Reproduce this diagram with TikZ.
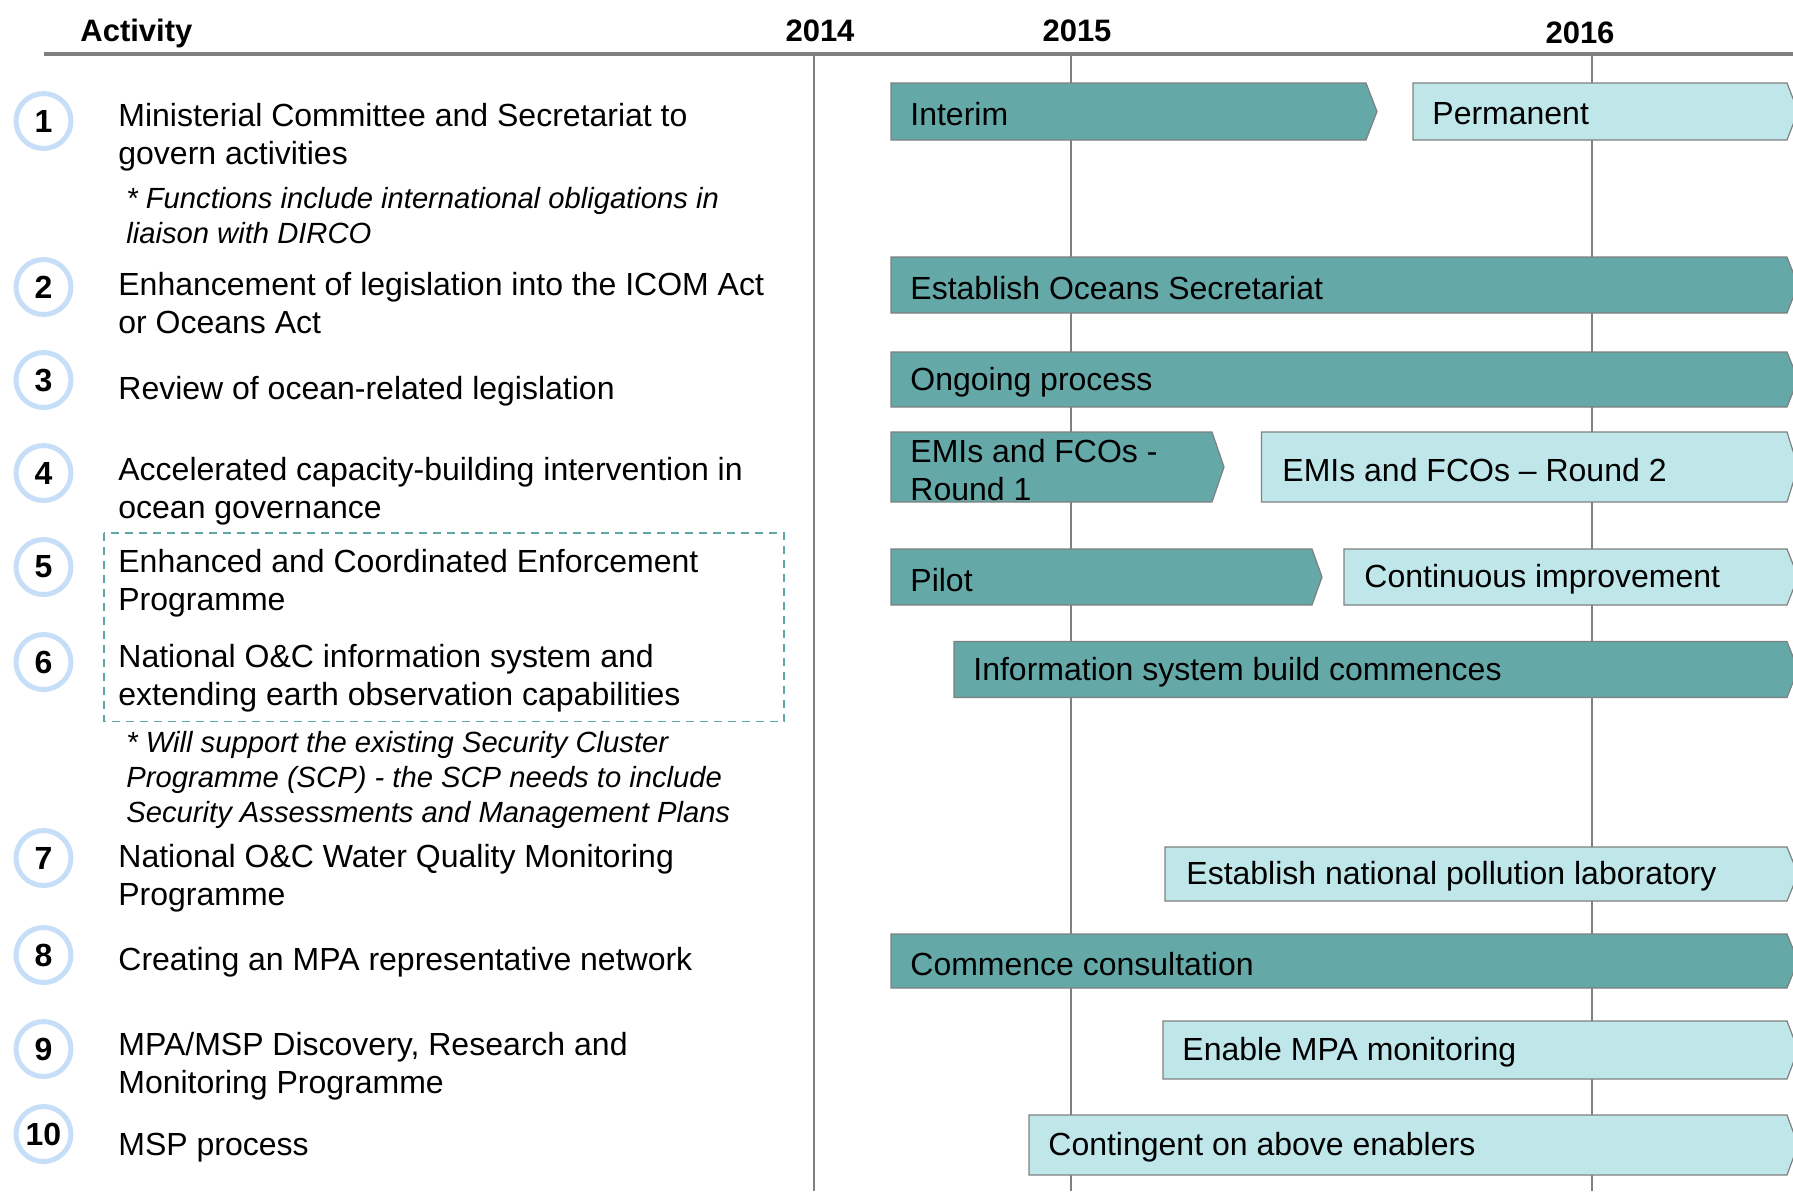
\documentclass[tikz,border=0pt]{standalone}
\usepackage{fontspec}
\setmainfont{Liberation Sans}
\usetikzlibrary{positioning}

\definecolor{darkteal}{RGB}{100,168,168}
\definecolor{lightteal}{RGB}{191,231,234}
\definecolor{bargray}{RGB}{128,128,128}
\definecolor{gridgray}{RGB}{128,128,128}
\definecolor{ringblue}{RGB}{198,222,247}
\definecolor{boxteal}{RGB}{95,167,167}

\begin{document}
\begin{tikzpicture}[
  x=0.5pt, y=-0.5pt,
  acttext/.style={anchor=west, inner sep=0pt, align=left, yshift=-1.5pt, font=\fontsize{16}{19}\selectfont},
  notetext/.style={anchor=west, inner sep=0pt, align=left, font=\fontsize{14.6}{17.6}\selectfont\itshape},
  numcirc/.style={circle, draw=ringblue, line width=2.5pt, fill=white, minimum size=27.5pt, inner sep=0pt, font=\fontsize{16}{19}\selectfont\bfseries},
  headlbl/.style={inner sep=0pt, font=\fontsize{15.5}{18}\selectfont\bfseries},
  darkbar/.style={draw=bargray, fill=darkteal, line width=0.6pt},
  lightbar/.style={draw=bargray, fill=lightteal, line width=0.6pt},
  bartext/.style={anchor=west, inner sep=0pt, align=left, yshift=-1.3pt, font=\fontsize{16}{19}\selectfont},
  gridline/.style={draw=gridgray, line width=0.75pt}
]
\clip (0,0) rectangle (1793,1191);
\useasboundingbox (0,0) rectangle (1793,1191);

% header
\node[headlbl, anchor=west] (acthead) at (80,33) {Activity};
\node[headlbl] (y2014) at (820,31) {2014};
\node[headlbl] (y2015) at (1077,31) {2015};
\node[headlbl] (y2016) at (1580,33) {2016};
\draw[draw=gridgray, line width=2pt] (43.5,53.7) -- (1793,53.7);

% divider and year lines
\draw[gridline] (814,53.7) -- (814,1191);
\draw[gridline] (1071,53.7) -- (1071,1191);
\draw[gridline] (1592,53.7) -- (1592,1191);

% activity numbers
\foreach \n/\yy in {1/121, 2/287, 3/380, 4/473, 5/567, 6/662, 7/858, 8/955, 9/1049, 10/1134}
  \node[numcirc] (num\n) at (43.5,\yy) {\n};

% activities
\node[acttext] (act1) at (118,134) {Ministerial Committee and Secretariat to\\govern activities};
\node[notetext] (note1) at (126,215.5) {* Functions include international obligations in\\liaison with DIRCO};
\node[acttext] (act2) at (118,300) {Enhancement of legislation into the ICOM Act\\or Oceans Act};
\node[acttext] (act3) at (118,388) {Review of ocean-related legislation};
\node[acttext] (act4) at (118,488) {Accelerated capacity-building intervention in\\ocean governance};
\node[acttext] (act5) at (118,580) {Enhanced and Coordinated Enforcement\\Programme};
\node[acttext] (act6) at (118,675) {National O\&C information system and\\extending earth observation capabilities};
\node[notetext] (note2) at (126,780) {* Will support the existing Security Cluster\\Programme (SCP) - the SCP needs to include\\Security Assessments and Management Plans};
\node[acttext] (act7) at (118,875.5) {National O\&C Water Quality Monitoring\\Programme};
\node[acttext] (act8) at (118,959) {Creating an MPA representative network};
\node[acttext] (act9) at (118,1063) {MPA/MSP Discovery, Research and\\Monitoring Programme};
\node[acttext] (act10) at (118,1145) {MSP process};
\draw[draw=boxteal, line width=0.8pt, dash pattern=on 4pt off 3pt] (104,533) rectangle (784,721.5);

% timeline bars
\path[darkbar] (891,83) -- (1366,83) -- (1377,111.5) -- (1366,140) -- (891,140) -- cycle;
\node[bartext] (interim) at (910,111.5) {Interim};
\path[lightbar] (1413,83) -- (1787,83) -- (1798,111.5) -- (1787,140) -- (1413,140) -- cycle;
\node[bartext] (permanent) at (1432,111.5) {Permanent};

\path[darkbar] (891,257) -- (1787,257) -- (1798,285) -- (1787,313) -- (891,313) -- cycle;
\node[bartext] (secretariat) at (910,285) {Establish Oceans Secretariat};

\path[darkbar] (891,352) -- (1787,352) -- (1798,379.5) -- (1787,407) -- (891,407) -- cycle;
\node[bartext] (ongoing) at (910,379.5) {Ongoing process};

\path[darkbar] (891,432) -- (1212,432) -- (1224,467) -- (1212,502) -- (891,502) -- cycle;
\node[bartext] (round1) at (910,467) {EMIs and FCOs -\\Round 1};
\path[lightbar] (1261.5,432) -- (1787,432) -- (1798,467) -- (1787,502) -- (1261.5,502) -- cycle;
\node[bartext] (round2) at (1282,467) {EMIs and FCOs -- Round 2};

\path[darkbar] (891,549) -- (1312,549) -- (1322,577) -- (1312,605) -- (891,605) -- cycle;
\node[bartext] (pilot) at (910,577) {Pilot};
\path[lightbar] (1344,549) -- (1787,549) -- (1798,577) -- (1787,605) -- (1344,605) -- cycle;
\node[bartext] (improve) at (1364,577) {Continuous improvement};

\path[darkbar] (954,641.5) -- (1787,641.5) -- (1798,669.5) -- (1787,697.5) -- (954,697.5) -- cycle;
\node[bartext] (infosys) at (973,669.5) {Information system build commences};

\path[lightbar] (1165,847) -- (1787,847) -- (1798,874) -- (1787,901) -- (1165,901) -- cycle;
\node[bartext] (pollab) at (1186,874) {Establish national pollution laboratory};

\path[darkbar] (891,934) -- (1787,934) -- (1798,961) -- (1787,988) -- (891,988) -- cycle;
\node[bartext] (consult) at (910,961) {Commence consultation};

\path[lightbar] (1163,1021) -- (1787,1021) -- (1798,1050) -- (1787,1079) -- (1163,1079) -- cycle;
\node[bartext] (mpamon) at (1182,1050) {Enable MPA monitoring};

\path[lightbar] (1029,1115) -- (1787,1115) -- (1798,1145) -- (1787,1175) -- (1029,1175) -- cycle;
\node[bartext] (contingent) at (1048,1145) {Contingent on above enablers};
\end{tikzpicture}
\end{document}
